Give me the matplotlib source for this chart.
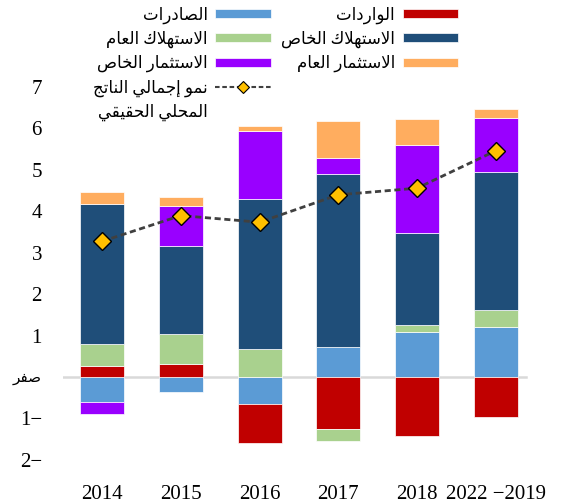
import matplotlib
matplotlib.use('Agg')
import matplotlib.pyplot as plt
from matplotlib.lines import Line2D
import numpy as np

# Datos (puntos porcentuales)
anios = ['2014', '2015', '2016', '2017', '2018', '2022 \u22122019']
exportaciones = [-0.61, -0.36, -0.64, 0.72, 1.08, 1.20]
importaciones = [0.27, 0.31, -0.94, -1.26, -1.43, -0.97]
consumo_publico = [0.52, 0.73, 0.67, -0.28, 0.17, 0.41]
consumo_privado = [3.39, 2.12, 3.61, 4.17, 2.21, 3.33]
inversion_privada = [-0.27, 0.96, 1.64, 0.38, 2.14, 1.31]
inversion_publica = [0.27, 0.21, 0.13, 0.90, 0.61, 0.20]
pib = [3.27, 3.89, 3.73, 4.39, 4.55, 5.45]

# ya en orden visual (el signo va detrás de la cifra)
etiquetas_y = ['2\u2212', '1\u2212', 'صفر', '1', '2', '3', '4', '5', '6', '7']

# Formas de presentación árabes (matplotlib no une las letras)
FORMAS = {
    'ا': (0xFE8D, 2), 'إ': (0xFE87, 2), 'أ': (0xFE83, 2), 'آ': (0xFE81, 2),
    'ت': (0xFE95, 4), 'ث': (0xFE99, 4), 'ج': (0xFE9D, 4), 'ح': (0xFEA1, 4),
    'خ': (0xFEA5, 4), 'د': (0xFEA9, 2), 'ر': (0xFEAD, 2), 'س': (0xFEB1, 4),
    'ص': (0xFEB9, 4), 'ع': (0xFEC9, 4), 'ف': (0xFED1, 4), 'ق': (0xFED5, 4),
    'ك': (0xFED9, 4), 'ل': (0xFEDD, 4), 'م': (0xFEE1, 4), 'ن': (0xFEE5, 4),
    'ه': (0xFEE9, 4), 'و': (0xFEED, 2), 'ي': (0xFEF1, 4),
}
LAMALEF = {'ا': 0xFEFB, 'إ': 0xFEF9, 'أ': 0xFEF7, 'آ': 0xFEF5}


def arabe(texto):
    if not any(c in FORMAS for c in texto):
        return texto
    chars = list(texto)
    out = []
    i = 0
    une_prev = False
    while i < len(chars):
        c = chars[i]
        if c not in FORMAS:
            out.append(c)
            une_prev = False
            i += 1
            continue
        if c == 'ل' and i + 1 < len(chars) and chars[i + 1] in LAMALEF:
            out.append(chr(LAMALEF[chars[i + 1]] + (1 if une_prev else 0)))
            une_prev = False
            i += 2
            continue
        inicio, n = FORMAS[c]
        sig = chars[i + 1] if i + 1 < len(chars) else None
        une_sig = n == 4 and sig in FORMAS
        if une_prev and une_sig:
            f = 3
        elif une_prev:
            f = 1
        elif une_sig:
            f = 2
        else:
            f = 0
        out.append(chr(inicio + f))
        une_prev = une_sig
        i += 1
    return ''.join(reversed(out))


series = [
    (exportaciones, 'الصادرات', '#5B9BD5'),
    (importaciones, 'الواردات', '#C00000'),
    (consumo_publico, 'الاستهلاك العام', '#A9D18E'),
    (consumo_privado, 'الاستهلاك الخاص', '#1F4E79'),
    (inversion_privada, 'الاستثمار الخاص', '#9900FF'),
    (inversion_publica, 'الاستثمار العام', '#FFAD5F'),
]

plt.rcParams['font.family'] = ['Liberation Serif', 'DejaVu Sans']

fig = plt.figure(figsize=(5.71, 5.03), dpi=100)
ax = fig.add_axes([0.110, 0.0855, 0.827, 0.7425])

x = np.arange(len(anios))
base_pos = np.zeros(len(anios))
base_neg = np.zeros(len(anios))
barras = {}
for valores, nombre, color in series:
    v = np.array(valores)
    abajo = np.where(v >= 0, base_pos, base_neg)
    b = ax.bar(x, v, width=0.56, bottom=abajo, color=color,
               edgecolor='white', linewidth=0.5, zorder=2)
    barras[nombre] = b
    base_pos = base_pos + np.where(v >= 0, v, 0)
    base_neg = base_neg + np.where(v < 0, v, 0)

ax.axhline(0, xmin=0, xmax=0.98, color='#D9D9D9', linewidth=1.8, zorder=1)

ax.plot(x, pib, color='#404040', linestyle=(0, (2.2, 1.3)), linewidth=2,
        marker='D', markersize=9, markerfacecolor='#FFC000',
        markeredgecolor='black', markeredgewidth=1, zorder=3)

ax.set_xlim(-0.5, 5.5)
ax.set_ylim(-2, 7)
ax.set_yticks(range(-2, 8))
ax.set_yticklabels([arabe(t) for t in etiquetas_y], fontsize=15)
ax.get_yticklabels()[2].set_fontsize(11)
ax.set_xticks(x)
ax.set_xticklabels(anios, fontsize=15)
ax.tick_params(length=0, axis='y', pad=15)
ax.tick_params(length=0, axis='x', pad=18)
for s in ax.spines.values():
    s.set_visible(False)

# leyenda de derecha a izquierda
vacio = Line2D([], [], color='none')
linea_ley = Line2D([], [], color='#404040', linestyle=(0, (2.2, 1.3)),
                   linewidth=1.5, marker='D', markersize=6,
                   markerfacecolor='#FFC000', markeredgecolor='black',
                   markeredgewidth=0.8)
handles = [barras['الصادرات'], barras['الاستهلاك العام'],
           barras['الاستثمار الخاص'], linea_ley, vacio,
           barras['الواردات'], barras['الاستهلاك الخاص'],
           barras['الاستثمار العام'], vacio]
labels = [arabe('الصادرات'), arabe('الاستهلاك العام'),
          arabe('الاستثمار الخاص'), arabe('نمو إجمالي الناتج'),
          arabe('المحلي الحقيقي'),
          arabe('الواردات'), arabe('الاستهلاك الخاص'),
          arabe('الاستثمار العام'), ' ']

fig.legend(handles, labels, ncol=2, loc='upper right',
           bbox_to_anchor=(0.829, 1.017), frameon=False, markerfirst=False,
           fontsize=12, handlelength=3.35, handleheight=0.45,
           handletextpad=0.45, columnspacing=0.6, labelspacing=0.42)

fig.savefig('out.png', dpi=100)
